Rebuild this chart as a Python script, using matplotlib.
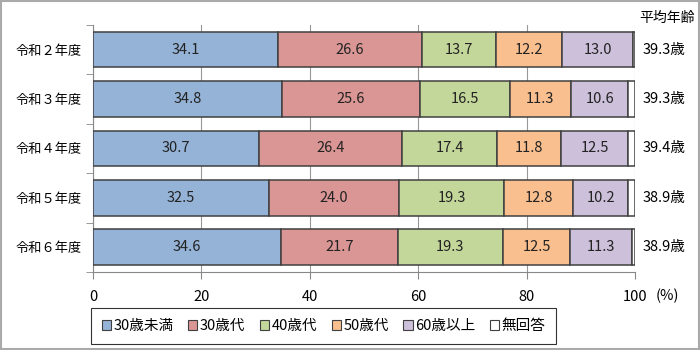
import matplotlib
matplotlib.use('Agg')
import matplotlib.pyplot as plt
from matplotlib.patches import Patch, Rectangle
import numpy as np

plt.rcParams['font.family'] = ['Noto Sans CJK JP', 'DejaVu Sans']

years = ['令和２年度', '令和３年度', '令和４年度', '令和５年度', '令和６年度']
groups = ['30歳未満', '30歳代', '40歳代', '50歳代', '60歳以上', '無回答']
under30 = [34.1, 34.8, 30.7, 32.5, 34.6]
age30s = [26.6, 25.6, 26.4, 24.0, 21.7]
age40s = [13.7, 16.5, 17.4, 19.3, 19.3]
age50s = [12.2, 11.3, 11.8, 12.8, 12.5]
over60 = [13.0, 10.6, 12.5, 10.2, 11.3]
no_answer = [0.4, 1.2, 1.2, 1.2, 0.6]
mean_age = ['39.3歳', '39.3歳', '39.4歳', '38.9歳', '38.9歳']

colors = ['#95B3D7', '#DA9694', '#C4D79B', '#FABF8F', '#CCC0DA', '#FFFFFF']
edge = '#404040'

fig = plt.figure(figsize=(7, 3.5), dpi=100)
ax = fig.add_axes([0.133, 0.223, 0.774, 0.706])

series = [under30, age30s, age40s, age50s, over60, no_answer]
y = np.arange(len(years))
left = np.zeros(len(years))
for name, vals, col in zip(groups, series, colors):
    vals = np.array(vals)
    ax.barh(y, vals, left=left, height=0.72, color=col, edgecolor=edge,
            linewidth=1.1, zorder=3)
    if name != '無回答':
        for yi, l, v in zip(y, left, vals):
            ax.text(l + v / 2, yi, '{:.1f}'.format(v), ha='center', va='center',
                    fontsize=10.5, color='#222222', zorder=4)
    left += vals

ax.set_xlim(0, 100)
ax.set_ylim(4.5, -0.5)
ax.set_xticks(range(0, 101, 20))
ax.tick_params(axis='x', labelsize=10.5, length=5, color='#888888', pad=8)
ax.set_yticks(y)
ax.set_yticklabels(years, fontsize=9.5)
ax.tick_params(axis='y', length=0, pad=8)
ax.set_yticks(np.arange(-0.5, 4.6, 1), minor=True)
ax.tick_params(axis='y', which='minor', length=5, color='#888888')
ax.grid(axis='x', color='#999999', linewidth=0.8, zorder=0)
for s in ['top', 'right']:
    ax.spines[s].set_visible(False)
for s in ['left', 'bottom']:
    ax.spines[s].set_color('#888888')

for yi, m in zip(y, mean_age):
    ax.text(1.015, yi, m, transform=ax.get_yaxis_transform(), ha='left',
            va='center', fontsize=10.5)
fig.text(0.953, 0.95, '平均年齢', ha='center', va='center', fontsize=10)
fig.text(0.953, 0.155, '(%)', ha='center', va='center', fontsize=10.5)

handles = [Patch(facecolor=c, edgecolor=edge, linewidth=0.8) for c in colors]
leg = fig.legend(handles, groups, ncol=6, loc='center',
                 bbox_to_anchor=(0.462, 0.069), fontsize=10.5, frameon=True,
                 fancybox=False, edgecolor='#000000', handlelength=0.65,
                 handleheight=0.65, handletextpad=0.15, columnspacing=1.0,
                 borderpad=0.75, borderaxespad=0)
leg.get_frame().set_linewidth(0.8)

fig.patches.append(Rectangle((0.002, 0.003), 0.996, 0.994, transform=fig.transFigure,
                             fill=False, edgecolor='#AAAAAA', linewidth=1.5))

fig.savefig('out.png', dpi=100)
